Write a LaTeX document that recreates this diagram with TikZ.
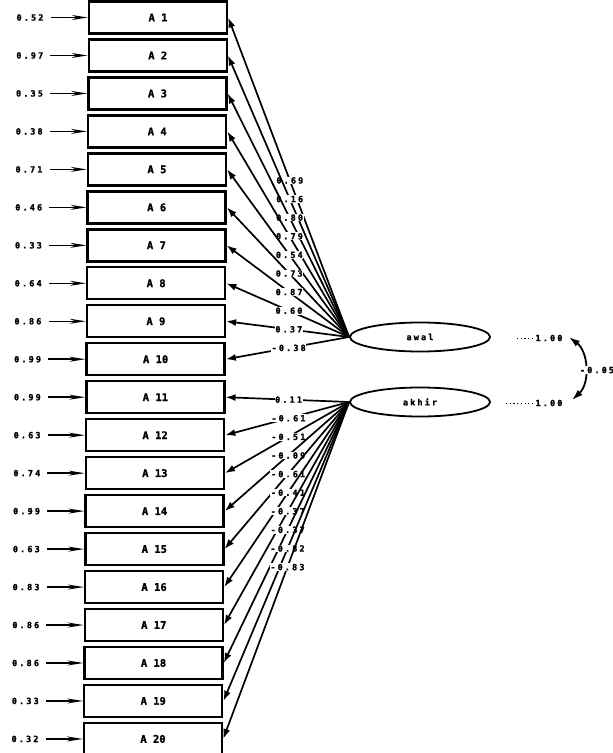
\documentclass[tikz,border=0pt]{standalone}
\usepackage{fontspec}
\newfontfamily\numfont[LetterSpace=25,FakeBold=1.5]{DejaVu Sans Mono Bold}
\newfontfamily\boxfont[FakeBold=1.2]{DejaVu Sans Mono Bold}
\usetikzlibrary{shapes.geometric,arrows.meta}
\begin{document}
\begin{tikzpicture}[x=1pt,y=-1pt,
  box/.style={draw, line width=2.4pt, minimum width=138pt, minimum height=32pt, inner sep=0pt,
    font=\boxfont\fontsize{10.5}{10.5}\selectfont},
  err/.style={inner sep=1pt, font=\numfont\fontsize{8.5}{8.5}\selectfont},
  lbl/.style={fill=white, inner sep=0.6pt, font=\numfont\fontsize{8.5}{8.5}\selectfont},
  lat/.style={ellipse, draw, line width=1.8pt, minimum width=140pt, minimum height=29pt, inner sep=0pt,
    font=\numfont\fontsize{8.5}{8.5}\selectfont},
  load/.style={line width=1.7pt, -{Latex[length=10pt,width=7pt]}},
  erra/.style={line width=1.5pt, -{Stealth[length=16pt,width=5pt]}},
  lead/.style={line width=1pt, dash pattern=on 1.2pt off 2.5pt},
  cov/.style={line width=1.8pt, {Latex[length=11pt,width=7pt]}-{Latex[length=11pt,width=7pt]}}
]
\useasboundingbox (0,0) rectangle (613,753);
\clip (0,0) rectangle (613,753);
\fill[white] (0,0) rectangle (613,753);

\foreach \i/\ev in {1/0.52,2/0.97,3/0.35,4/0.38,5/0.71,6/0.46,7/0.33,8/0.64,9/0.86,10/0.99,
                    11/0.99,12/0.63,13/0.74,14/0.99,15/0.63,16/0.83,17/0.86,18/0.86,19/0.33,20/0.32} {
  \pgfmathsetmacro\yy{17.5+37.97*(\i-1)}
  \pgfmathsetmacro\xx{158-5*(\i-1)/19}
  \pgfmathsetmacro\ex{30-5*(\i-1)/19}
  \node[box] (b\i) at (\xx,\yy) {A \i};
  \node[err] (e\i) at (\ex,\yy) {\ev};
  \draw[erra] ([xshift=6pt]e\i.east) -- (b\i.west);
}

\node[lat] (awal) at (420,337) {awal};
\node[lat] (akhir) at (420,402) {akhir};

\foreach \i/\l in {1/0.69,2/0.16,3/0.80,4/0.79,5/0.54,6/0.73,7/0.87,8/0.60,9/0.37,10/-0.38} {
  \draw[load] (awal.west) -- node[lbl,pos=0.49]{\l} (b\i.east);
}
\foreach \i/\l in {11/0.11,12/-0.61,13/-0.51,14/-0.09,15/-0.61,16/-0.41,17/-0.37,18/-0.37,19/-0.82,20/-0.83} {
  \draw[load] (akhir.west) -- node[lbl,pos=0.49]{\l} (b\i.east);
}

\node[err] (v1) at (549,338) {1.00};
\node[err] (v2) at (549,403) {1.00};
\coordinate (l1) at (517,338);
\coordinate (l2) at (506,403);
\draw[lead] (l1) -- (v1.west);
\draw[lead] (l2) -- (v2.west);

\coordinate (c1) at (569,337);
\coordinate (c2) at (572,400);
\draw[cov] (c1) to[bend left=50] (c2);
\node[lbl] (cv) at (597,370) {-0.05};
\end{tikzpicture}
\end{document}
